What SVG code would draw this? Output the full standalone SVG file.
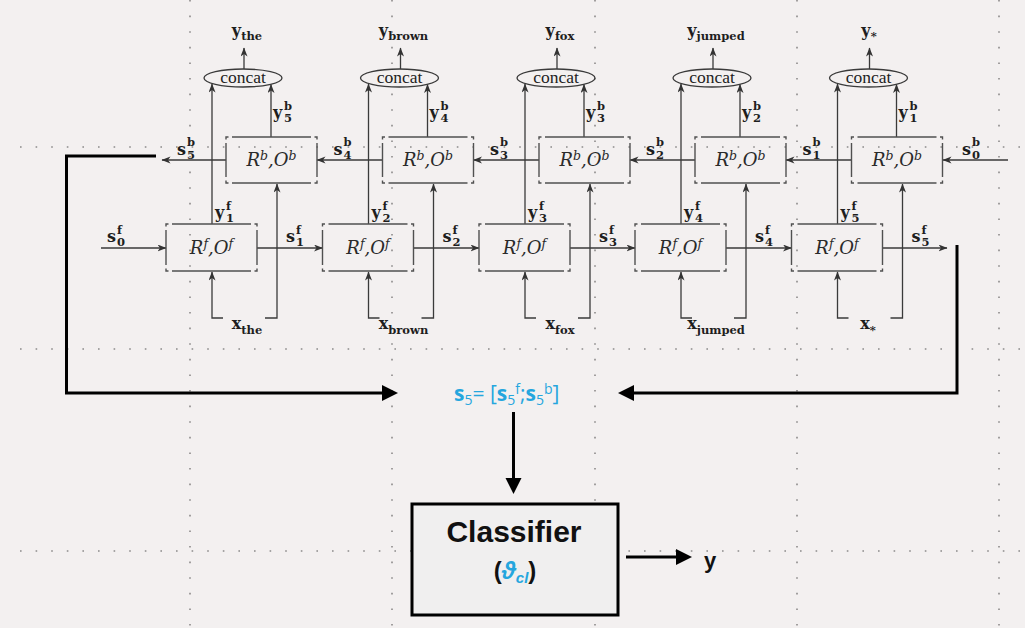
<svg xmlns="http://www.w3.org/2000/svg" width="1025" height="628" viewBox="0 0 1025 628">
<defs>
<style>
.grid{stroke:#8c8a8a;stroke-width:1.6;stroke-dasharray:1.6 14;fill:none}
.ln{stroke:#3a3a3a;stroke-width:1.3;fill:none}
.bx{stroke:#505050;stroke-width:1.4;fill:none}
.thick{stroke:#000;stroke-width:3;fill:none}
.lb{font-family:"DejaVu Serif","Liberation Serif",serif;font-weight:bold;font-size:16px;fill:#1e1e1e}
.ss{font-size:11.5px}
.cc{font-family:"Liberation Serif",serif;font-size:17.5px;fill:#1e1e1e}
.rt{font-family:"DejaVu Serif","Liberation Serif",serif;font-style:italic;font-size:18px;fill:#2a2a2a}
.blue{font-family:"Open Sans","Noto Sans",sans-serif;font-size:21px;fill:#25a6de}
.sans{font-family:"Liberation Sans",Arial,sans-serif;font-weight:bold;fill:#111}
</style>
<marker id="a" markerUnits="userSpaceOnUse" markerWidth="10" markerHeight="8" refX="8.5" refY="3.5" orient="auto"><path d="M0,0 L9,3.5 L0,7 L2.5,3.5 z" fill="#333"/></marker>
<marker id="A" markerUnits="userSpaceOnUse" markerWidth="18" markerHeight="18" refX="4" refY="8" orient="auto"><path d="M0,0 L16,8 L0,16 z" fill="#000"/></marker>
</defs>
<rect width="1025" height="628" fill="#f3f0f0"/>
<g id="grid">
<path class="grid" d="M190,0 V628 M392,0 V628 M595,0 V628 M797,0 V628 M999,0 V628"/>
<path class="grid" d="M20,147 H1025 M20,349 H1025 M20,551 H1025"/>
</g>
<g id="connectors">
<g class="ln" marker-end="url(#a)">
<path d="M101,248 H166"/>
<path d="M1008,160 H943"/>
<path d="M212,224 V84"/><path d="M271,137 V84.5"/><path d="M244,69 V48"/><path d="M223,318 H212 V272"/><path d="M265,318 H277 V184"/><path d="M257,248 H322.5"/><path d="M226,160 H162"/>
<path d="M368.5,224 V84"/><path d="M427.5,137 V84.5"/><path d="M400.5,69 V48"/><path d="M379.5,318 H368.5 V272"/><path d="M421.5,318 H433.5 V184"/><path d="M413.5,248 H479"/><path d="M382.5,160 H317"/>
<path d="M525,224 V84"/><path d="M584,137 V84.5"/><path d="M557,69 V48"/><path d="M536,318 H525 V272"/><path d="M578,318 H590 V184"/><path d="M570,248 H635"/><path d="M539,160 H473.5"/>
<path d="M681,224 V84"/><path d="M740,137 V84.5"/><path d="M713,69 V48"/><path d="M692,318 H681 V272"/><path d="M734,318 H746 V184"/><path d="M726,248 H791.5"/><path d="M695,160 H630"/>
<path d="M837.5,224 V84"/><path d="M896.5,137 V84.5"/><path d="M869.5,69 V48"/><path d="M848.5,318 H837.5 V272"/><path d="M890.5,318 H902.5 V184"/><path d="M882.5,248 H947"/><path d="M851.5,160 H786"/>
</g>
<g class="thick" marker-end="url(#A)">
<path d="M156,156 H66.5 V393 H386"/>
<path d="M957,245 V393 H630"/>
<path d="M513.5,412 V482"/>
<path d="M626,557 H680"/>
</g>
</g>
<g id="state-labels" class="lb">
<text x="107" y="242">s<tspan class="ss" x="117" y="233.5">f</tspan><tspan class="ss" x="117" y="245.5">0</tspan></text>
<text x="286" y="242">s<tspan class="ss" x="296" y="233.5">f</tspan><tspan class="ss" x="296" y="245.5">1</tspan></text>
<text x="442.5" y="242">s<tspan class="ss" x="452.5" y="233.5">f</tspan><tspan class="ss" x="452.5" y="245.5">2</tspan></text>
<text x="599" y="242">s<tspan class="ss" x="609" y="233.5">f</tspan><tspan class="ss" x="609" y="245.5">3</tspan></text>
<text x="755" y="242">s<tspan class="ss" x="765" y="233.5">f</tspan><tspan class="ss" x="765" y="245.5">4</tspan></text>
<text x="911.5" y="242">s<tspan class="ss" x="921.5" y="233.5">f</tspan><tspan class="ss" x="921.5" y="245.5">5</tspan></text>
<text x="177" y="155">s<tspan class="ss" x="187" y="146">b</tspan><tspan class="ss" x="187" y="158.5">5</tspan></text>
<text x="333.5" y="155">s<tspan class="ss" x="343.5" y="146">b</tspan><tspan class="ss" x="343.5" y="158.5">4</tspan></text>
<text x="490" y="155">s<tspan class="ss" x="500" y="146">b</tspan><tspan class="ss" x="500" y="158.5">3</tspan></text>
<text x="646" y="155">s<tspan class="ss" x="656" y="146">b</tspan><tspan class="ss" x="656" y="158.5">2</tspan></text>
<text x="802.5" y="155">s<tspan class="ss" x="812.5" y="146">b</tspan><tspan class="ss" x="812.5" y="158.5">1</tspan></text>
<text x="962" y="155">s<tspan class="ss" x="972" y="146">b</tspan><tspan class="ss" x="972" y="158.5">0</tspan></text>
</g>
<g id="col1">
<ellipse cx="243" cy="78" rx="39" ry="9" class="ln"/>
<text class="cc" x="243" y="83" text-anchor="middle">concat</text>
<text class="lb" x="247" y="36" text-anchor="middle">y<tspan class="ss" dy="4">the</tspan></text>
<path class="bx" d="M232,137 H311 M232,183 H311 M226,143 V177 M317,143 V177 M226,139.5 V137 H228.5 M314.5,137 H317 V139.5 M226,180.5 V183 H228.5 M314.5,183 H317 V180.5"/>
<text class="rt" x="271.5" y="166" text-anchor="middle">R<tspan font-size="12.5" dy="-6">b</tspan><tspan dy="6">,O</tspan><tspan font-size="12.5" dy="-6">b</tspan></text>
<path class="bx" d="M172,224 H251 M172,271 H251 M166,230 V265 M257,230 V265 M166,226.5 V224 H168.5 M254.5,224 H257 V226.5 M166,268.5 V271 H168.5 M254.5,271 H257 V268.5"/>
<text class="rt" x="211.5" y="254" text-anchor="middle">R<tspan font-size="12.5" dy="-6">f</tspan><tspan dy="6">,O</tspan><tspan font-size="12.5" dy="-6">f</tspan></text>
<text class="lb" x="215" y="218">y<tspan class="ss" x="226" y="209.5">f</tspan><tspan class="ss" x="226" y="222">1</tspan></text>
<text class="lb" x="273" y="118">y<tspan class="ss" x="284" y="109.5">b</tspan><tspan class="ss" x="284" y="122">5</tspan></text>
<text class="lb" x="247" y="329" text-anchor="middle">x<tspan class="ss" dy="5">the</tspan></text>
</g>
<g id="col2">
<ellipse cx="399.5" cy="78" rx="39" ry="9" class="ln"/>
<text class="cc" x="399.5" y="83" text-anchor="middle">concat</text>
<text class="lb" x="403.5" y="36" text-anchor="middle">y<tspan class="ss" dy="4">brown</tspan></text>
<path class="bx" d="M388.5,137 H467.5 M388.5,183 H467.5 M382.5,143 V177 M473.5,143 V177 M382.5,139.5 V137 H385 M471,137 H473.5 V139.5 M382.5,180.5 V183 H385 M471,183 H473.5 V180.5"/>
<text class="rt" x="428" y="166" text-anchor="middle">R<tspan font-size="12.5" dy="-6">b</tspan><tspan dy="6">,O</tspan><tspan font-size="12.5" dy="-6">b</tspan></text>
<path class="bx" d="M328.5,224 H407.5 M328.5,271 H407.5 M322.5,230 V265 M413.5,230 V265 M322.5,226.5 V224 H325 M411,224 H413.5 V226.5 M322.5,268.5 V271 H325 M411,271 H413.5 V268.5"/>
<text class="rt" x="368" y="254" text-anchor="middle">R<tspan font-size="12.5" dy="-6">f</tspan><tspan dy="6">,O</tspan><tspan font-size="12.5" dy="-6">f</tspan></text>
<text class="lb" x="371.5" y="218">y<tspan class="ss" x="382.5" y="209.5">f</tspan><tspan class="ss" x="382.5" y="222">2</tspan></text>
<text class="lb" x="429.5" y="118">y<tspan class="ss" x="440.5" y="109.5">b</tspan><tspan class="ss" x="440.5" y="122">4</tspan></text>
<text class="lb" x="403.5" y="329" text-anchor="middle">x<tspan class="ss" dy="5">brown</tspan></text>
</g>
<g id="col3">
<ellipse cx="556" cy="78" rx="39" ry="9" class="ln"/>
<text class="cc" x="556" y="83" text-anchor="middle">concat</text>
<text class="lb" x="560" y="36" text-anchor="middle">y<tspan class="ss" dy="4">fox</tspan></text>
<path class="bx" d="M545,137 H624 M545,183 H624 M539,143 V177 M630,143 V177 M539,139.5 V137 H541.5 M627.5,137 H630 V139.5 M539,180.5 V183 H541.5 M627.5,183 H630 V180.5"/>
<text class="rt" x="584.5" y="166" text-anchor="middle">R<tspan font-size="12.5" dy="-6">b</tspan><tspan dy="6">,O</tspan><tspan font-size="12.5" dy="-6">b</tspan></text>
<path class="bx" d="M485,224 H564 M485,271 H564 M479,230 V265 M570,230 V265 M479,226.5 V224 H481.5 M567.5,224 H570 V226.5 M479,268.5 V271 H481.5 M567.5,271 H570 V268.5"/>
<text class="rt" x="524.5" y="254" text-anchor="middle">R<tspan font-size="12.5" dy="-6">f</tspan><tspan dy="6">,O</tspan><tspan font-size="12.5" dy="-6">f</tspan></text>
<text class="lb" x="528" y="218">y<tspan class="ss" x="539" y="209.5">f</tspan><tspan class="ss" x="539" y="222">3</tspan></text>
<text class="lb" x="586" y="118">y<tspan class="ss" x="597" y="109.5">b</tspan><tspan class="ss" x="597" y="122">3</tspan></text>
<text class="lb" x="560" y="329" text-anchor="middle">x<tspan class="ss" dy="5">fox</tspan></text>
</g>
<g id="col4">
<ellipse cx="712" cy="78" rx="39" ry="9" class="ln"/>
<text class="cc" x="712" y="83" text-anchor="middle">concat</text>
<text class="lb" x="716" y="36" text-anchor="middle">y<tspan class="ss" dy="4">jumped</tspan></text>
<path class="bx" d="M701,137 H780 M701,183 H780 M695,143 V177 M786,143 V177 M695,139.5 V137 H697.5 M783.5,137 H786 V139.5 M695,180.5 V183 H697.5 M783.5,183 H786 V180.5"/>
<text class="rt" x="740.5" y="166" text-anchor="middle">R<tspan font-size="12.5" dy="-6">b</tspan><tspan dy="6">,O</tspan><tspan font-size="12.5" dy="-6">b</tspan></text>
<path class="bx" d="M641,224 H720 M641,271 H720 M635,230 V265 M726,230 V265 M635,226.5 V224 H637.5 M723.5,224 H726 V226.5 M635,268.5 V271 H637.5 M723.5,271 H726 V268.5"/>
<text class="rt" x="680.5" y="254" text-anchor="middle">R<tspan font-size="12.5" dy="-6">f</tspan><tspan dy="6">,O</tspan><tspan font-size="12.5" dy="-6">f</tspan></text>
<text class="lb" x="684" y="218">y<tspan class="ss" x="695" y="209.5">f</tspan><tspan class="ss" x="695" y="222">4</tspan></text>
<text class="lb" x="742" y="118">y<tspan class="ss" x="753" y="109.5">b</tspan><tspan class="ss" x="753" y="122">2</tspan></text>
<text class="lb" x="716" y="329" text-anchor="middle">x<tspan class="ss" dy="5">jumped</tspan></text>
</g>
<g id="col5">
<ellipse cx="868.5" cy="78" rx="39" ry="9" class="ln"/>
<text class="cc" x="868.5" y="83" text-anchor="middle">concat</text>
<text class="lb" x="869" y="36" text-anchor="middle">y<tspan class="ss" dy="4">*</tspan></text>
<path class="bx" d="M857.5,137 H936.5 M857.5,183 H936.5 M851.5,143 V177 M942.5,143 V177 M851.5,139.5 V137 H854 M940,137 H942.5 V139.5 M851.5,180.5 V183 H854 M940,183 H942.5 V180.5"/>
<text class="rt" x="897" y="166" text-anchor="middle">R<tspan font-size="12.5" dy="-6">b</tspan><tspan dy="6">,O</tspan><tspan font-size="12.5" dy="-6">b</tspan></text>
<path class="bx" d="M797.5,224 H876.5 M797.5,271 H876.5 M791.5,230 V265 M882.5,230 V265 M791.5,226.5 V224 H794 M880,224 H882.5 V226.5 M791.5,268.5 V271 H794 M880,271 H882.5 V268.5"/>
<text class="rt" x="837" y="254" text-anchor="middle">R<tspan font-size="12.5" dy="-6">f</tspan><tspan dy="6">,O</tspan><tspan font-size="12.5" dy="-6">f</tspan></text>
<text class="lb" x="840.5" y="218">y<tspan class="ss" x="851.5" y="209.5">f</tspan><tspan class="ss" x="851.5" y="222">5</tspan></text>
<text class="lb" x="898.5" y="118">y<tspan class="ss" x="909.5" y="109.5">b</tspan><tspan class="ss" x="909.5" y="122">1</tspan></text>
<text class="lb" x="868" y="329" text-anchor="middle">x<tspan class="ss" dy="5">*</tspan></text>
</g>
<g id="concat-state">
<text class="blue" x="454" y="401"><tspan font-weight="bold">s</tspan><tspan font-size="14" dy="4">5</tspan><tspan dy="-4">= [</tspan><tspan font-weight="bold">s</tspan><tspan font-size="14" dy="4">5</tspan><tspan font-size="14" dy="-11">f</tspan><tspan dy="7">;</tspan><tspan font-weight="bold">s</tspan><tspan font-size="14" dy="4">5</tspan><tspan font-size="14" dy="-11">b</tspan><tspan dy="7">]</tspan></text>
</g>
<g id="classifier">
<rect x="412" y="504" width="206" height="111" fill="#f0efef" stroke="#000" stroke-width="3"/>
<text class="sans" x="514" y="542" font-size="30" text-anchor="middle">Classifier</text>
<text class="sans" x="515" y="579" font-size="24" text-anchor="middle" font-weight="normal">(<tspan fill="#25a6de" font-weight="bold" font-style="italic">ϑ</tspan><tspan fill="#25a6de" font-weight="bold" font-style="italic" font-size="15" dy="4">cl</tspan><tspan dy="-4">)</tspan></text>
</g>
<g id="output">
<text class="sans" x="704" y="568" font-size="22">y</text>
</g>
</svg>
